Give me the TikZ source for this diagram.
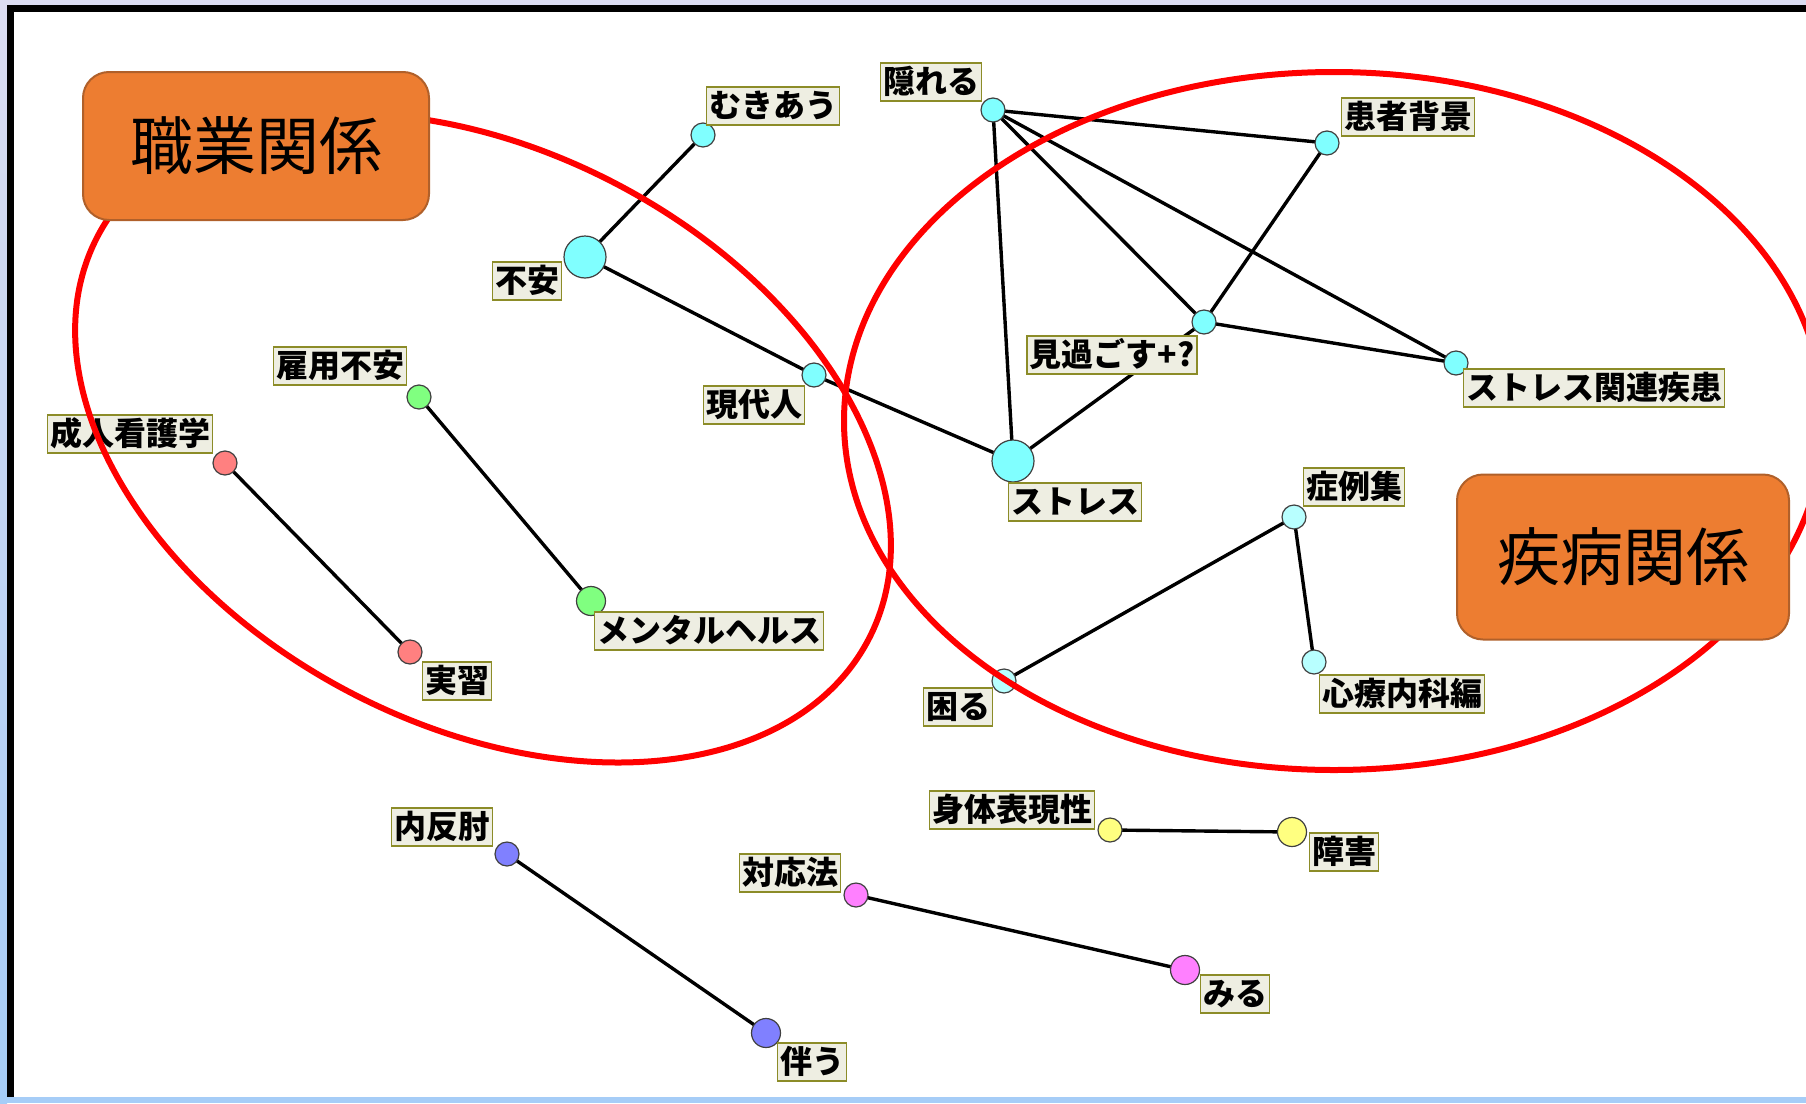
\documentclass[tikz,border=0pt]{standalone}
\usepackage{fontspec}
\newfontfamily\jp{Noto Sans CJK JP}
\definecolor{cyn}{HTML}{80FFFF}
\definecolor{lcyn}{HTML}{B8FFFF}
\definecolor{grn}{HTML}{80FF80}
\definecolor{pnk}{HTML}{FF8080}
\definecolor{blu}{HTML}{8080FF}
\definecolor{mag}{HTML}{FF80FF}
\definecolor{yel}{HTML}{FFFF80}
\definecolor{lblbg}{HTML}{EEEEE2}
\definecolor{lbldraw}{HTML}{8C8C28}
\definecolor{orangefill}{HTML}{ED7D31}
\definecolor{orangedraw}{HTML}{B0602A}
\definecolor{lavtop}{HTML}{DCDDF2}
\definecolor{sideblue}{HTML}{A6CDF7}
\pgfdeclarelayer{bg}
\pgfdeclarelayer{fg}
\pgfsetlayers{bg,main,fg}
\begin{document}
\begin{tikzpicture}[x=1pt,y=-1pt,
  cn/.style={circle, draw=black!75, line width=1.2pt, inner sep=0pt, minimum size=24pt},
  big/.style={minimum size=42pt},
  mid/.style={minimum size=29pt},
  lbl/.style={draw=lbldraw, fill=lblbg, line width=1.6pt, inner xsep=2.5pt, inner ysep=4pt,
    text height=26pt, text depth=4pt, font=\jp\bfseries\fontsize{32}{36}\selectfont},
  edge/.style={draw=black, line width=3.4pt},
  redring/.style={draw=red, line width=6pt},
  obox/.style={draw=orangedraw, fill=orangefill, line width=2pt, rounded corners=26pt,
    inner sep=0pt, font=\jp\fontsize{63}{72}\selectfont}]
\useasboundingbox (0,0) rectangle (1806,1103);
\begin{pgfonlayer}{bg}
\fill[white] (0,0) rectangle (1806,1103);
\shade[top color=lavtop, bottom color=sideblue] (0,0) rectangle (7,1103);
\fill[lavtop] (7,0) rectangle (1806,5);
\fill[sideblue] (7,1097) rectangle (1806,1103);
\fill[black] (7,5) rectangle (14,1097);
\fill[black] (7,5) rectangle (1806,12);
\end{pgfonlayer}

% nodes
\node[cn, big, fill=cyn] (fuan) at (585,257) {};
\node[cn, fill=cyn] (mukiau) at (703,135) {};
\node[cn, fill=cyn] (kakureru) at (993,110) {};
\node[cn, fill=cyn] (gendai) at (814,375) {};
\node[cn, fill=cyn] (minogosu) at (1204,322) {};
\node[cn, fill=cyn] (kanja) at (1327,143) {};
\node[cn, fill=cyn] (kanren) at (1456,363) {};
\node[cn, big, fill=cyn] (stress) at (1013,461) {};
\node[cn, fill=lcyn] (shorei) at (1294,517) {};
\node[cn, fill=lcyn] (shinryo) at (1314,662) {};
\node[cn, fill=lcyn] (komaru) at (1004,681) {};
\node[cn, fill=grn] (koyo) at (419,397) {};
\node[cn, mid, fill=grn] (mental) at (591,601) {};
\node[cn, fill=pnk] (seijin) at (225,463) {};
\node[cn, fill=pnk] (jisshu) at (410,652) {};
\node[cn, fill=blu] (naihan) at (507,854) {};
\node[cn, mid, fill=blu] (tomonau) at (766,1033) {};
\node[cn, fill=mag] (taio) at (856,895) {};
\node[cn, mid, fill=mag] (miru) at (1185,970) {};
\node[cn, fill=yel] (shintai) at (1110,830) {};
\node[cn, mid, fill=yel] (shogai) at (1292,832) {};

% connectors
\begin{pgfonlayer}{bg}
\draw[edge] (fuan.center) -- (mukiau.center);
\draw[edge] (fuan.center) -- (gendai.center);
\draw[edge] (gendai.center) -- (stress.center);
\draw[edge] (kakureru.center) -- (stress.center);
\draw[edge] (kakureru.center) -- (kanja.center);
\draw[edge] (kakureru.center) -- (minogosu.center);
\draw[edge] (kakureru.center) -- (kanren.center);
\draw[edge] (kanja.center) -- (minogosu.center);
\draw[edge] (minogosu.center) -- (kanren.center);
\draw[edge] (minogosu.center) -- (stress.center);
\draw[edge] (shorei.center) -- (komaru.center);
\draw[edge] (shorei.center) -- (shinryo.center);
\draw[edge] (koyo.center) -- (mental.center);
\draw[edge] (seijin.center) -- (jisshu.center);
\draw[edge] (naihan.center) -- (tomonau.center);
\draw[edge] (taio.center) -- (miru.center);
\draw[edge] (shintai.center) -- (shogai.center);
\end{pgfonlayer}

% labels
\node[lbl] (l-fuan) at (527,281) {不安};
\node[lbl] (l-mukiau) at (773,106) {むきあう};
\node[lbl] (l-kakureru) at (931,82) {隠れる};
\node[lbl] (l-gendai) at (754,405) {現代人};
\node[lbl] (l-minogosu) at (1112,355) {見過ごす+?};
\node[lbl] (l-kanja) at (1408,117) {患者背景};
\node[lbl] (l-kanren) at (1594,388) {ストレス関連疾患};
\node[lbl] (l-stress) at (1075,502) {ストレス};
\node[lbl] (l-shorei) at (1354,487) {症例集};
\node[lbl] (l-shinryo) at (1402,694) {心療内科編};
\node[lbl] (l-komaru) at (958,707) {困る};
\node[lbl] (l-koyo) at (340,366) {雇用不安};
\node[lbl] (l-mental) at (709,631) {メンタルヘルス};
\node[lbl] (l-seijin) at (130,434) {成人看護学};
\node[lbl] (l-jisshu) at (457,681) {実習};
\node[lbl] (l-naihan) at (442,827) {内反肘};
\node[lbl] (l-tomonau) at (812,1062) {伴う};
\node[lbl] (l-taio) at (790,873) {対応法};
\node[lbl] (l-miru) at (1235,994) {みる};
\node[lbl] (l-shintai) at (1012,810) {身体表現性};
\node[lbl] (l-shogai) at (1344,852) {障害};

% red rings and group boxes
\begin{pgfonlayer}{fg}
\begin{scope}
\clip (0,0) rectangle (1806,1103);
\draw[redring, rotate around={-27.6:(483,438)}] (483,438) ellipse [x radius=435pt, y radius=287pt];
\draw[redring] (1334,421) ellipse [x radius=490pt, y radius=349pt];
\end{scope}
\node[obox, minimum width=346pt, minimum height=148pt] (shokugyo) at (256,146) {職業関係};
\node[obox, minimum width=332pt, minimum height=165pt] (shippei) at (1623,557) {疾病関係};
\end{pgfonlayer}
\end{tikzpicture}
\end{document}
